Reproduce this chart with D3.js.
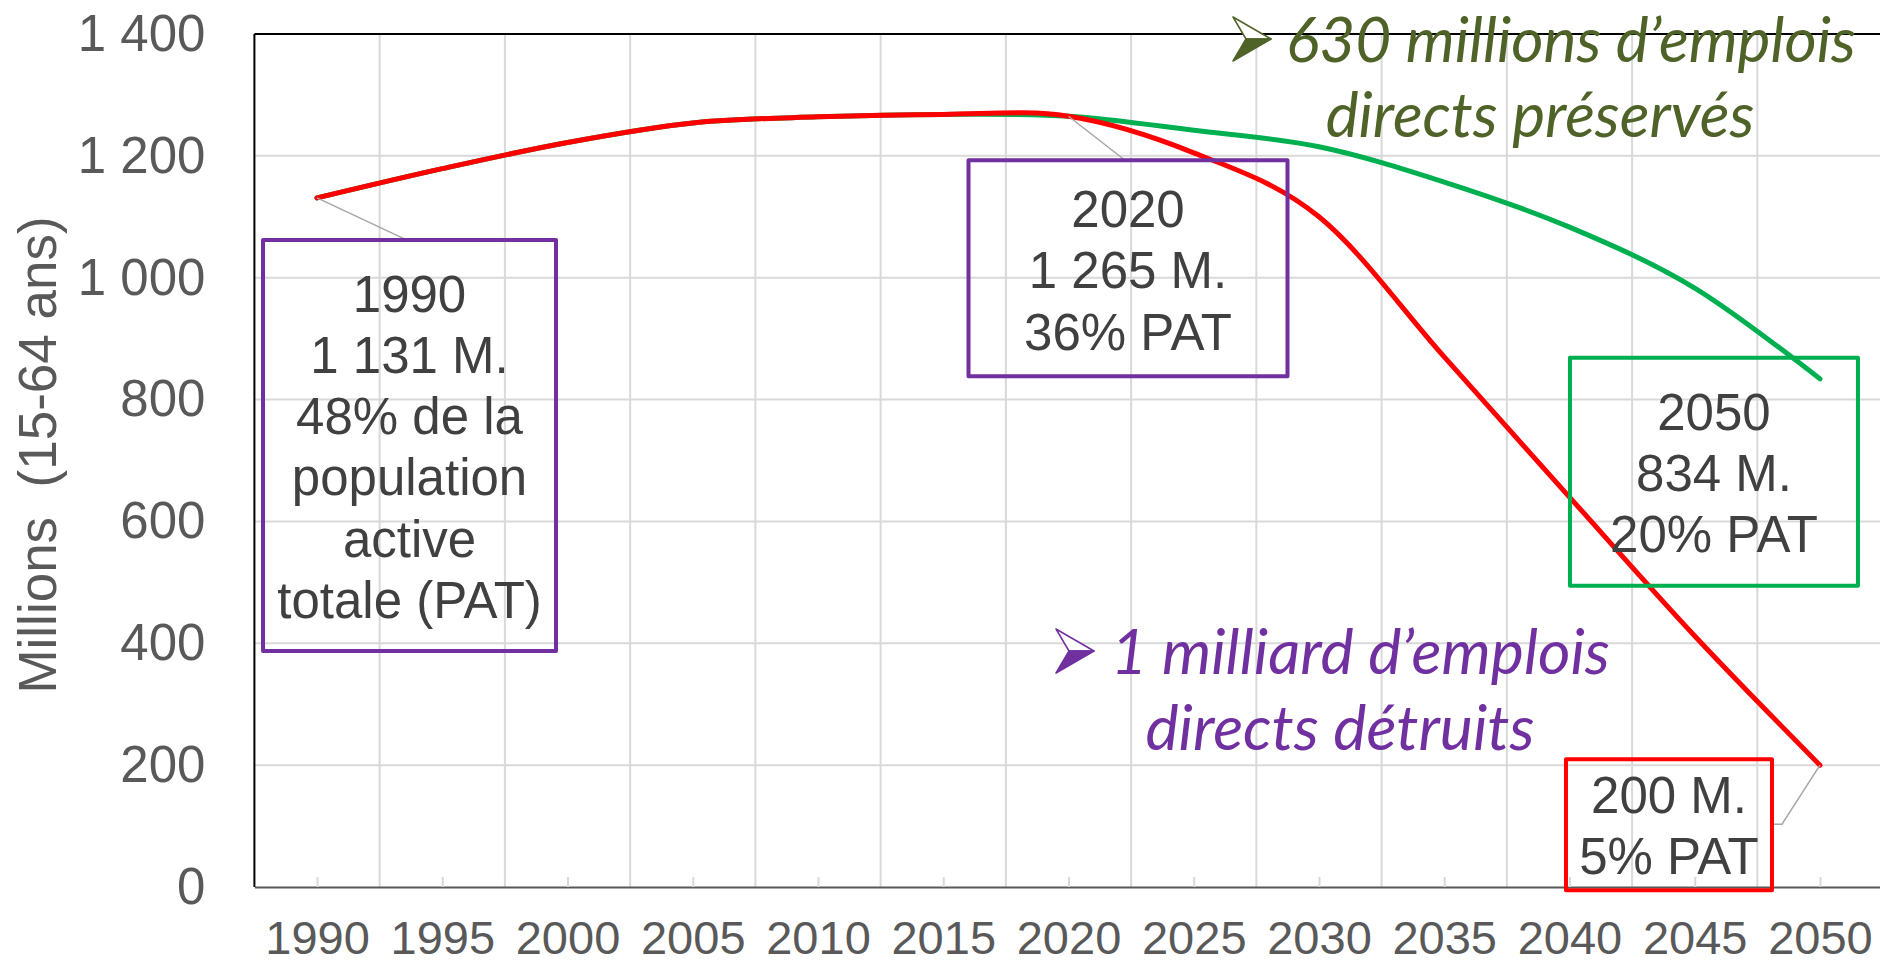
<!DOCTYPE html>
<html>
<head>
<meta charset="utf-8">
<script src="https://cdn.jsdelivr.net/npm/d3@7"></script>
<style>
  body { margin: 0; background: #fff; }
  svg { display: block; }
</style>
</head>
<body>
<div id="chart"></div>
<script>
// categories (every 5 years)
var years = [1990, 1995, 2000, 2005, 2010, 2015, 2020, 2025, 2030, 2035, 2040, 2045, 2050];
// emplois directs, millions (15-64 ans) - scenario destructeur
var redValues = [1131, 1179, 1222, 1254, 1264, 1268, 1265, 1205, 1100, 870, 640, 412, 200];
// scenario preservant
var greenValues = [1131, 1179, 1222, 1254, 1264, 1268, 1265, 1242, 1215, 1157, 1083, 983, 834];
// y tick labels
var yTicks = [0, 200, 400, 600, 800, 1000, 1200, 1400];

// callout texts
var label1990 = ["1990", "1 131 M.", "48% de la", "population", "active", "totale (PAT)"];
var label2020 = ["2020", "1 265 M.", "36% PAT"];
var label2050g = ["2050", "834 M.", "20% PAT"];
var label2050r = ["200 M.", "5% PAT"];

var W = 1880, H = 965;
var gridColor = "#d9d9d9";
var textGray = "#595959";
var boxText = "#404040";

var svg = d3.select("#chart").append("svg")
  .attr("width", W)
  .attr("height", H)
  .style("font-family", "'Liberation Sans', Arial, sans-serif");

svg.append("rect").attr("width", W).attr("height", H).attr("fill", "#fff");

var x = d3.scaleLinear().domain([1987.5, 2052.5]).range([254.4, 1882.6]);
var y = d3.scaleLinear().domain([0, 1400]).range([887, 34]);

// gridlines
var grid = svg.append("g");
grid.selectAll(".hg")
  .data(yTicks.filter(function (d) { return d > 0 && d < 1400; }))
  .enter().append("line")
  .attr("x1", x(1987.5)).attr("x2", W)
  .attr("y1", function (d) { return y(d); })
  .attr("y2", function (d) { return y(d); })
  .attr("stroke", gridColor).attr("stroke-width", 2);

grid.selectAll(".vg")
  .data(years.slice(0, -1))
  .enter().append("line")
  .attr("x1", function (d) { return x(d + 2.5); })
  .attr("x2", function (d) { return x(d + 2.5); })
  .attr("y1", y(1400)).attr("y2", y(0))
  .attr("stroke", gridColor).attr("stroke-width", 2);

// x axis
var xAxis = d3.axisBottom(x)
  .tickValues(years)
  .tickFormat(d3.format("d"))
  .tickSizeInner(-10)
  .tickSizeOuter(0)
  .tickPadding(34);

var gx = svg.append("g").attr("transform", "translate(0," + y(0) + ")").call(xAxis);
gx.select(".domain").attr("stroke", textGray).attr("stroke-width", 2);
gx.selectAll(".tick line").attr("stroke", gridColor).attr("stroke-width", 2);
gx.selectAll(".tick text")
  .attr("fill", textGray)
  .style("font-size", "47px")
  .style("font-family", "'Liberation Sans', Arial, sans-serif");

// y axis
var fr = d3.formatLocale({ decimal: ",", thousands: "\u00a0", grouping: [3], currency: ["", " €"] });
var yAxis = d3.axisLeft(y)
  .tickValues(yTicks)
  .tickFormat(fr.format(","))
  .tickSize(0)
  .tickPadding(49);

var gy = svg.append("g").attr("transform", "translate(" + x(1987.5) + ",0)").call(yAxis);
gy.select(".domain").remove();
gy.selectAll(".tick text")
  .attr("fill", textGray)
  .style("font-size", "51px")
  .style("font-family", "'Liberation Sans', Arial, sans-serif");

// frame (top and left)
svg.append("line")
  .attr("x1", x(1987.5)).attr("x2", W)
  .attr("y1", y(1400)).attr("y2", y(1400))
  .attr("stroke", "#000").attr("stroke-width", 2);
svg.append("line")
  .attr("x1", x(1987.5)).attr("x2", x(1987.5))
  .attr("y1", y(1400)).attr("y2", y(0))
  .attr("stroke", "#000").attr("stroke-width", 2);

// y title
svg.append("text")
  .attr("transform", "translate(56,455) rotate(-90)")
  .attr("text-anchor", "middle")
  .attr("fill", textGray)
  .style("font-size", "53px")
  .style("white-space", "pre")
  .text("Millions  (15-64 ans)");

// series
var line = d3.line()
  .x(function (d) { return x(d[0]); })
  .y(function (d) { return y(d[1]); })
  .curve(d3.curveCatmullRom.alpha(0));

svg.append("path")
  .datum(d3.zip(years, greenValues))
  .attr("d", line)
  .attr("fill", "none")
  .attr("stroke", "#00b050")
  .attr("stroke-width", 5)
  .attr("stroke-linecap", "round");

svg.append("path")
  .datum(d3.zip(years, redValues))
  .attr("d", line)
  .attr("fill", "none")
  .attr("stroke", "#ff0000")
  .attr("stroke-width", 5)
  .attr("stroke-linecap", "round");

// callout boxes, placed relative to their data point
var i1990 = years.indexOf(1990), i2020 = years.indexOf(2020), i2050 = years.indexOf(2050);
var callouts = [
  { px: x(1990), py: y(redValues[i1990]), dx: -54, dy: 42, w: 293, h: 411, color: "#7030a0", lines: label1990, first: 72, leader: "top" },
  { px: x(2020), py: y(redValues[i2020]), dx: -100, dy: 44, w: 319, h: 216, color: "#7030a0", lines: label2020, first: 67, leader: "top" },
  { px: x(2050), py: y(greenValues[i2050]), dx: -250, dy: -21, w: 288, h: 228, color: "#00b050", lines: label2050g, first: 72, leader: null },
  { px: x(2050), py: y(redValues[i2050]), dx: -254, dy: -6, w: 206, h: 131, color: "#ff0000", lines: label2050r, first: 54, leader: "side" }
];

var cg = svg.append("g");
callouts.forEach(function (c) {
  var bx = c.px + c.dx, by = c.py + c.dy;
  if (c.leader === "top") {
    cg.append("line")
      .attr("x1", c.px).attr("y1", c.py)
      .attr("x2", bx + c.w / 2 - 3).attr("y2", by)
      .attr("stroke", "#a6a6a6").attr("stroke-width", 1.5);
  } else if (c.leader === "side") {
    cg.append("polyline")
      .attr("points", [[c.px, c.py], [bx + c.w + 10, by + 65], [bx + c.w, by + 65]].join(" "))
      .attr("fill", "none")
      .attr("stroke", "#a6a6a6").attr("stroke-width", 1.5);
  }
  cg.append("rect")
    .attr("x", bx).attr("y", by)
    .attr("width", c.w).attr("height", c.h)
    .attr("fill", "none")
    .attr("stroke", c.color)
    .attr("stroke-width", 4)
    .attr("stroke-linejoin", "round");
  cg.selectAll(null)
    .data(c.lines)
    .enter().append("text")
    .attr("x", bx + c.w / 2)
    .attr("y", function (d, i) { return by + c.first + i * 61.2; })
    .attr("text-anchor", "middle")
    .attr("fill", boxText)
    .style("font-size", "51px")
    .text(function (d) { return d; });
});

// arrow bullet (two-tone arrowhead)
function arrowBullet(g, ax, ay, color) {
  g.append("path")
    .attr("d", "M" + ax + "," + ay + " L" + (ax + 38) + "," + (ay + 22) + " L" + (ax + 13) + "," + (ay + 22) + " Z")
    .attr("fill", "#fff").attr("stroke", color).attr("stroke-width", 1.5).attr("stroke-linejoin", "round");
  g.append("path")
    .attr("d", "M" + (ax + 13) + "," + (ay + 22) + " L" + (ax + 38) + "," + (ay + 22) + " L" + ax + "," + (ay + 44) + " Z")
    .attr("fill", color).attr("stroke", color).attr("stroke-width", 1.5).attr("stroke-linejoin", "round");
}

function note(g, lines, color, startX, base1, centerX2, base2, width1) {
  var t1 = g.append("text")
    .attr("x", startX).attr("y", base1)
    .attr("fill", color)
    .style("font-family", "Lato, 'Open Sans', sans-serif")
    .style("font-style", "italic")
    .style("font-size", "60px")
    .text(lines[0]);
  var fs = 60 * width1 / t1.node().getComputedTextLength();
  t1.style("font-size", fs + "px");
  g.append("text")
    .attr("x", centerX2).attr("y", base2)
    .attr("text-anchor", "middle")
    .attr("fill", color)
    .style("font-family", "Lato, 'Open Sans', sans-serif")
    .style("font-style", "italic")
    .style("font-size", fs + "px")
    .text(lines[1]);
}

var ng = svg.append("g");
arrowBullet(ng, 1233, 17, "#4f6228");
note(ng, ["630 millions d\u2019emplois", "directs pr\u00e9serv\u00e9s"], "#4f6228", 1286, 62, 1540, 137, 570);
arrowBullet(ng, 1056, 629, "#7030a0");
note(ng, ["1 milliard d\u2019emplois", "directs d\u00e9truits"], "#7030a0", 1111, 674, 1340, 750, 499);
</script>
</body>
</html>
